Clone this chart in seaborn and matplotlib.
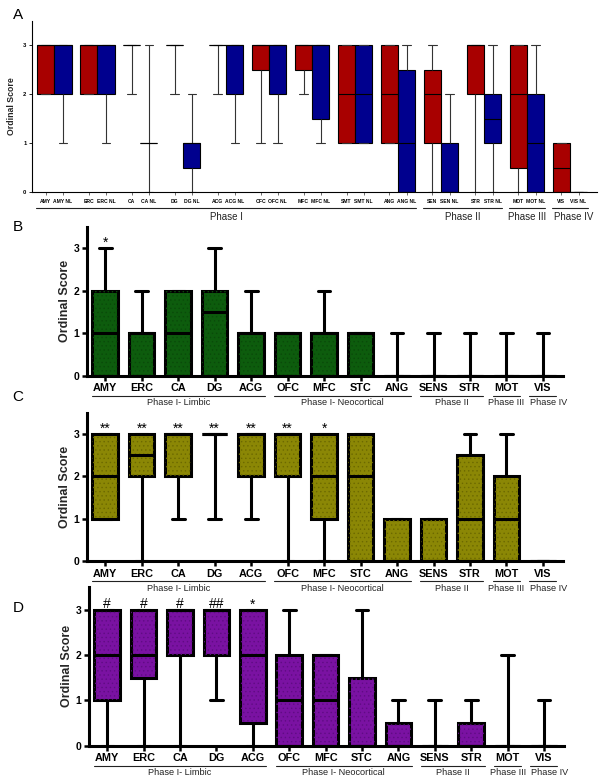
import numpy as np
import pandas as pd
import matplotlib
matplotlib.use("Agg")
import matplotlib.pyplot as plt
import matplotlib.patches as mpatches
import matplotlib.transforms as mtransforms
import seaborn as sns

# Box summaries are (min, q1, median, q3, max) ordinal scores

# Panel A: lesion vs. no-lesion (NL) per region
regions_a = ["AMY", "ERC", "CA", "DG", "ACG", "OFC", "MFC",
             "SMT", "ANG", "SEN", "STR", "MOT", "VIS"]
lesion_a = [
    (2, 2, 3, 3, 3), (2, 2, 3, 3, 3), (2, 3, 3, 3, 3), (2, 3, 3, 3, 3),
    (2, 3, 3, 3, 3), (1, 2.5, 3, 3, 3), (2, 2.5, 3, 3, 3), (1, 1, 2, 3, 3),
    (1, 1, 2, 3, 3), (0, 1, 2, 2.5, 3), (0, 2, 3, 3, 3), (0, 0.5, 2, 3, 3),
    (0, 0, 0.5, 1, 1),
]
nl_a = [
    (1, 2, 3, 3, 3), (1, 2, 3, 3, 3), (0, 1, 1, 1, 3), (0, 0.5, 1, 1, 2),
    (1, 2, 3, 3, 3), (1, 2, 3, 3, 3), (1, 1.5, 3, 3, 3), (1, 1, 2, 3, 3),
    (0, 0, 1, 2.5, 3), (0, 0, 0, 1, 2), (0, 1, 1.5, 2, 3), (0, 0, 1, 2, 3),
    (0, 0, 0, 0, 0),
]
phases_a = [("Phase I", 0, 8), ("Phase II", 9, 10),
            ("Phase III", 11, 11), ("Phase IV", 12, 12)]

# Panels B-D
regions = ["AMY", "ERC", "CA", "DG", "ACG", "OFC", "MFC",
           "STC", "ANG", "SENS", "STR", "MOT", "VIS"]
scores_b = [
    (0, 0, 1, 2, 3), (0, 0, 1, 1, 2), (0, 0, 1, 2, 2), (0, 0, 1.5, 2, 3),
    (0, 0, 1, 1, 2), (0, 0, 1, 1, 1), (0, 0, 1, 1, 2), (0, 0, 1, 1, 1),
    (0, 0, 0, 0, 1), (0, 0, 0, 0, 1), (0, 0, 0, 0, 1), (0, 0, 0, 0, 1),
    (0, 0, 0, 0, 1),
]
scores_c = [
    (1, 1, 2, 3, 3), (0, 2, 2.5, 3, 3), (1, 2, 3, 3, 3), (1, 3, 3, 3, 3),
    (1, 2, 3, 3, 3), (0, 2, 3, 3, 3), (0, 1, 2, 3, 3), (0, 0, 2, 3, 3),
    (0, 0, 0, 1, 1), (0, 0, 0, 1, 1), (0, 0, 1, 2.5, 3), (0, 0, 1, 2, 3),
    (0, 0, 0, 0, 0),
]
scores_d = [
    (0, 1, 2, 3, 3), (0, 1.5, 2, 3, 3), (0, 2, 3, 3, 3), (1, 2, 3, 3, 3),
    (0, 0.5, 2, 3, 3), (0, 0, 1, 2, 3), (0, 0, 1, 2, 2), (0, 0, 0, 1.5, 3),
    (0, 0, 0, 0.5, 1), (0, 0, 0, 0, 1), (0, 0, 0, 0.5, 1), (0, 0, 0, 0, 2),
    (0, 0, 0, 0, 1),
]
marks_b = ["*", "", "", "", "", "", "", "", "", "", "", "", ""]
marks_c = ["**", "**", "**", "**", "**", "**", "*", "", "", "", "", "", ""]
marks_d = ["#", "#", "#", "##", "*", "", "", "", "", "", "", "", ""]
phases = [("Phase I- Limbic", 0, 4), ("Phase I- Neocortical", 5, 8),
          ("Phase II", 9, 10), ("Phase III", 11, 11), ("Phase IV", 12, 12)]


def long_form(names, summaries, group=""):
    rows = []
    for name, summary in zip(names, summaries):
        for v in summary:
            rows.append({"region": name, "group": group, "score": v})
    return pd.DataFrame(rows)


def phase_brackets(fig, ax, groups, line_px, text_px, pad, size, last_shift):
    line_tr = mtransforms.offset_copy(ax.get_xaxis_transform(), fig=fig,
                                      y=-line_px, units="dots")
    text_tr = mtransforms.offset_copy(ax.get_xaxis_transform(), fig=fig,
                                      y=-text_px, units="dots")
    for k, (label, first, last) in enumerate(groups):
        ax.plot([first - pad, last + pad], [0, 0], color="#222222", lw=0.8,
                transform=line_tr, clip_on=False)
        xc = (first + last) / 2
        if k == len(groups) - 1:
            xc += last_shift
        ax.text(xc, 0, label, transform=text_tr,
                ha="center", va="top", fontsize=size, color="#222222")


def add_dots(ax, dot_color):
    # stippled fill like the original GraphPad boxes
    for p in list(ax.patches):
        ax.add_patch(mpatches.PathPatch(p.get_path(), transform=p.get_transform(),
                                        facecolor="none", edgecolor=dot_color,
                                        linewidth=0, hatch="....", zorder=p.get_zorder()))


sns.set_style("ticks", {"axes.edgecolor": "black", "xtick.color": "black",
                        "ytick.color": "black", "text.color": "black"})
plt.rcParams["font.family"] = ["Liberation Sans", "DejaVu Sans"]
plt.rcParams["hatch.linewidth"] = 0.5

fig = plt.figure(figsize=(6.05, 7.84), dpi=100)

# ---------------- Panel A ----------------
ax = fig.add_axes([0.0529, 0.7551, 0.9339, 0.2181])
ax.patch.set_alpha(0)
df_a = pd.concat([long_form(regions_a, lesion_a, "L"),
                  long_form(regions_a, nl_a, "NL")])
sns.boxplot(data=df_a, x="region", y="score", hue="group", order=regions_a,
            hue_order=["L", "NL"], palette={"L": "#a80000", "NL": "#00008e"},
            saturation=1, width=0.8, gap=0, dodge=True, whis=(0, 100),
            linewidth=0.8, linecolor="black", legend=False, ax=ax,
            whiskerprops={"color": "#333333"}, capprops={"color": "#333333"})
ax.set_xlim(-0.52, 12.63)
ax.set_ylim(0, 3.5)
ax.set_yticks([0, 1, 2, 3])
tick_pos = [p for i in range(len(regions_a)) for p in (i - 0.2, i + 0.2)]
tick_lab = [l for r in regions_a for l in (r, r + " NL")]
ax.set_xticks(tick_pos)
ax.set_xticklabels(tick_lab, fontsize=3.6, fontweight="bold")
ax.tick_params(axis="x", length=2.5, width=0.6, pad=2.5, color="#555555")
ax.tick_params(axis="y", length=2, width=0.6, pad=2, labelsize=4.2)
for t in ax.get_yticklabels():
    t.set_fontweight("bold")
ax.set_xlabel("")
ax.set_ylabel("Ordinal Score", fontsize=6.3, fontweight="bold", labelpad=5)
for s in ["left", "bottom"]:
    ax.spines[s].set_linewidth(0.8)
sns.despine(ax=ax)
phase_brackets(fig, ax, phases_a, 16, 19.5, 0.42, 7, 0.08)
fig.text(18 / 605, 1 - 15 / 784, "A", fontsize=11, ha="center", va="center")

# ---------------- Panels B-D ----------------
panels = [
    ("B", scores_b, marks_b, "#0d5c0d", "#0a4a0a", [0.1438, 0.5208, 0.7868, 0.1901], 227),
    ("C", scores_c, marks_c, "#8b8705", "#6c6900", [0.1438, 0.2844, 0.7868, 0.1888], 397),
    ("D", scores_d, marks_d, "#7a12a2", "#600c84", [0.1471, 0.0489, 0.7851, 0.2024], 608),
]
for letter, scores, marks, color, dot_color, rect, letter_y in panels:
    ax = fig.add_axes(rect)
    ax.patch.set_alpha(0)
    df = long_form(regions, scores)
    sns.boxplot(data=df, x="region", y="score", order=regions, color=color,
                saturation=1, width=0.7, whis=(0, 100), linewidth=2.2,
                linecolor="black", ax=ax)
    add_dots(ax, dot_color)
    for i, m in enumerate(marks):
        if m:
            ax.text(i, 3.03, m, ha="center", va="baseline", fontsize=10)
    ax.set_xlim(-0.5, 12.55)
    ax.set_ylim(0, 3.5)
    ax.set_yticks([0, 1, 2, 3])
    ax.set_xticks(range(len(regions)))
    ax.set_xticklabels(regions, fontsize=7.8, fontweight="bold")
    for t in ax.get_yticklabels():
        t.set_fontweight("bold")
    ax.tick_params(axis="both", length=3.5, width=1.8, pad=2)
    ax.tick_params(axis="y", labelsize=7.5)
    ax.set_xlabel("")
    ax.set_ylabel("Ordinal Score", fontsize=9, fontweight="bold", labelpad=2)
    for s in ["left", "bottom"]:
        ax.spines[s].set_linewidth(2.2)
    sns.despine(ax=ax)
    phase_brackets(fig, ax, phases, 20, 22.5, 0.37, 6.6, 0.15)
    fig.text(18 / 605, 1 - letter_y / 784, letter, fontsize=11,
             ha="center", va="center")

fig.savefig("out.png", dpi=100)
